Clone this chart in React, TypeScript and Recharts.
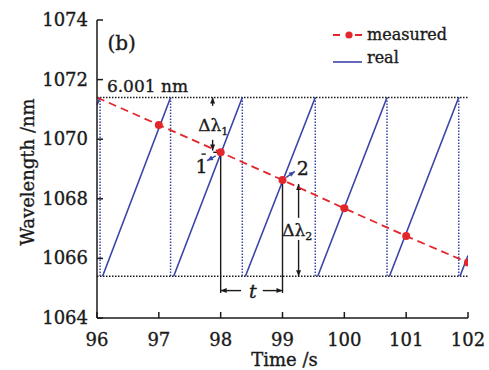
import {
  ComposedChart,
  Line,
  XAxis,
  YAxis,
  ReferenceLine,
  ReferenceDot,
  Legend,
} from "recharts"

const FONT = "'DejaVu Serif', serif"
const BLUE = "#3a45a8"
const RED = "#e3262b"
const INK = "#1a1a1a"
// a hairline outline gives the serif text a little more weight
const TEXT_WEIGHT = { stroke: INK, strokeWidth: 0.35 }

// sweep limits of the source (nm)
const LOW = 1065.4
const HIGH = 1071.4

// real wavelength: each ramp climbs to HIGH, then drops back to LOW
const rampStart = [96, 96.09, 97.24, 98.4, 99.57, 100.73, 101.87]
const rampStartValue = [1071.15, LOW, LOW, LOW, LOW, LOW, LOW]
const rampEnd = [96.05, 97.19, 98.35, 99.53, 100.69, 101.85, 102]
const rampEndValue = [HIGH, HIGH, HIGH, HIGH, HIGH, HIGH, 1066.1]
const dropTimes = [96.05, 97.19, 98.35, 99.53, 100.69, 101.85]

// measured wavelength, one sample per second
const measuredTime = [96, 97, 98, 99, 100, 101, 102]
const measuredValue = [1071.4, 1070.48, 1069.56, 1068.63, 1067.68, 1066.75, 1065.86]

const xTicks = [96, 97, 98, 99, 100, 101, 102]
const yTicks = [1064, 1066, 1068, 1070, 1072, 1074]

const realData = rampStart.flatMap((t, i) => [
  { x: t, y: rampStartValue[i] },
  { x: rampEnd[i], y: rampEndValue[i] },
  { x: rampEnd[i], y: null },
])

const dropData = dropTimes.flatMap((t) => [
  { x: t, y: HIGH },
  { x: t, y: LOW },
  { x: t, y: null },
])

const measuredData = measuredTime.map((t, i) => ({ x: t, y: measuredValue[i] }))

function XTick({ x, y, payload }: any) {
  return (
    <g>
      <line x1={x} y1={y} x2={x} y2={y - 6} stroke={INK} strokeWidth={1.5} />
      <text x={x} y={y + 28} textAnchor="middle" fontFamily={FONT} fontSize={18} fill={INK} {...TEXT_WEIGHT}>
        {payload.value}
      </text>
    </g>
  )
}

function YTick({ x, y, payload }: any) {
  return (
    <g>
      <line x1={x} y1={y} x2={x + 6} y2={y} stroke={INK} strokeWidth={1.5} />
      <text x={x - 9} y={y + 6} textAnchor="end" fontFamily={FONT} fontSize={18} fill={INK} {...TEXT_WEIGHT}>
        {payload.value}
      </text>
    </g>
  )
}

// line with filled arrow head(s) for ReferenceLine shapes
function arrow(heads: "none" | "end" | "both", color = INK) {
  return (p: any) => {
    const { x1, y1, x2, y2 } = p
    const len = Math.hypot(x2 - x1, y2 - y1) || 1
    const ux = (x2 - x1) / len
    const uy = (y2 - y1) / len
    const head = (x: number, y: number, sx: number, sy: number) => {
      const bx = x - sx * 6
      const by = y - sy * 6
      return (
        <polygon
          points={`${x},${y} ${bx - sy * 2.5},${by + sx * 2.5} ${bx + sy * 2.5},${by - sx * 2.5}`}
          fill={color}
        />
      )
    }
    return (
      <g>
        <line x1={x1} y1={y1} x2={x2} y2={y2} stroke={color} strokeWidth={1.4} />
        {heads !== "none" && head(x2, y2, ux, uy)}
        {heads === "both" && head(x1, y1, -ux, -uy)}
      </g>
    )
  }
}

function seg(key: string, a: [number, number], b: [number, number], heads: "none" | "end" | "both", color = INK) {
  return (
    <ReferenceLine
      key={key}
      segment={[
        { x: a[0], y: a[1] },
        { x: b[0], y: b[1] },
      ]}
      shape={arrow(heads, color)}
    />
  )
}

function note(key: string, x: number, y: number, body: any, size = 18, anchor = "middle", italic = false) {
  return (
    <ReferenceDot
      key={key}
      x={x}
      y={y}
      r={0}
      shape={(p: any) => (
        <text
          x={p.cx}
          y={p.cy}
          textAnchor={anchor}
          fontFamily={FONT}
          fontSize={size}
          fontStyle={italic ? "italic" : "normal"}
          fill={INK}
          {...TEXT_WEIGHT}
        >
          {body}
        </text>
      )}
    />
  )
}

function LegendBox() {
  return (
    <svg width={130} height={48}>
      <line x1={3} y1={10} x2={10} y2={10} stroke={RED} strokeWidth={2} />
      <circle cx={19} cy={10} r={3.6} fill={RED} />
      <line x1={25} y1={10} x2={32} y2={10} stroke={RED} strokeWidth={2} />
      <text x={37} y={15} fontFamily={FONT} fontSize={16} fill={INK} {...TEXT_WEIGHT}>
        measured
      </text>
      <line x1={3} y1={37} x2={32} y2={37} stroke={BLUE} strokeWidth={1.6} />
      <text x={37} y={38} fontFamily={FONT} fontSize={16} fill={INK} {...TEXT_WEIGHT}>
        real
      </text>
    </svg>
  )
}

const sub = (main: string, s: string) => (
  <>
    {main}
    <tspan fontSize={11} dy={4}>
      {s}
    </tspan>
  </>
)

export default function App() {
  return (
    <div style={{ position: "absolute", left: 0, top: 0, width: 489, height: 370, background: "#fff" }}>
      <ComposedChart width={489} height={370} margin={{ top: 20, right: 21, bottom: 0, left: 0 }}>
        <XAxis
          dataKey="x"
          type="number"
          domain={[96, 102]}
          ticks={xTicks}
          interval={0}
          allowDataOverflow
          height={52}
          tickSize={0}
          tickMargin={0}
          tick={<XTick />}
          axisLine={{ stroke: INK, strokeWidth: 1.5 }}
          label={{
            content: (p: any) => (
              <text
                x={p.viewBox.x + p.viewBox.width / 2 + 2}
                y={p.viewBox.y + 48}
                textAnchor="middle"
                fontFamily={FONT}
                fontSize={18}
                fill={INK}
                {...TEXT_WEIGHT}
              >
                Time /s
              </text>
            ),
          }}
        />
        <XAxis
          xAxisId="top"
          orientation="top"
          type="number"
          domain={[96, 102]}
          height={0}
          tick={false}
          tickLine={false}
          axisLine={{ stroke: INK, strokeWidth: 1.5 }}
        />
        <YAxis
          type="number"
          domain={[1064, 1074]}
          ticks={yTicks}
          interval={0}
          allowDataOverflow
          width={97}
          tickSize={0}
          tickMargin={0}
          tick={<YTick />}
          axisLine={{ stroke: INK, strokeWidth: 1.5 }}
          label={{
            content: () => (
              <text
                x={27}
                y={172}
                transform="rotate(-90, 27, 172)"
                textAnchor="middle"
                dominantBaseline="central"
                fontFamily={FONT}
                fontSize={18}
                fill={INK}
                {...TEXT_WEIGHT}
              >
                Wavelength /nm
              </text>
            ),
          }}
        />
        <YAxis
          yAxisId="right"
          orientation="right"
          type="number"
          domain={[1064, 1074]}
          width={0}
          tick={false}
          tickLine={false}
          axisLine={{ stroke: INK, strokeWidth: 1.5 }}
        />

        <ReferenceLine y={HIGH} stroke={INK} strokeWidth={1.5} strokeDasharray="1.5 1.5" />
        <ReferenceLine y={LOW} stroke={INK} strokeWidth={1.5} strokeDasharray="1.5 1.5" />

        <Line
          data={dropData}
          dataKey="y"
          stroke={BLUE}
          strokeWidth={1.5}
          strokeDasharray="1.5 1.5"
          dot={false}
          legendType="none"
          isAnimationActive={false}
        />
        <Line
          data={realData}
          dataKey="y"
          name="real"
          stroke={BLUE}
          strokeWidth={1.6}
          dot={false}
          isAnimationActive={false}
        />

        {/* readout markers between samples 98 and 99 */}
        {seg("v98", [98, measuredValue[2]], [98, 1064.84], "none")}
        {seg("v99", [99, measuredValue[3]], [99, 1064.84], "none")}
        {seg("tl", [98.33, 1064.92], [98, 1064.92], "end")}
        {seg("tr", [98.68, 1064.92], [99, 1064.92], "end")}
        {note("t", 98.52, 1064.66, "t", 19, "middle", true)}

        {seg("d1a", [97.87, 1071.12], [97.87, HIGH], "end")}
        {seg("d1b", [97.87, 1069.98], [97.87, 1069.62], "end")}
        {seg("d1c", [97.88, 1069.56], [97.98, 1069.56], "none")}
        {seg("d1d", [97.69, 1069.5], [97.76, 1069.5], "none")}
        {note("dl1", 97.88, 1070.28, sub("Δλ", "1"), 17)}

        {seg("d2a", [99.26, 1067.36], [99.26, 1068.5], "end")}
        {seg("d2b", [99.26, 1066.62], [99.26, LOW], "end")}
        {note("dl2", 99.24, 1066.74, sub("Δλ", "2"), 17)}

        {seg("p1", [97.92, 1069.44], [97.78, 1069.28], "end", BLUE)}
        {note("n1", 97.69, 1068.85, "1", 19)}
        {seg("p2", [99.06, 1068.72], [99.2, 1068.92], "end", BLUE)}
        {note("n2", 99.33, 1068.8, "2", 19)}

        {note("b", 96.17, 1072.99, "(b)", 20, "start")}
        {note("span", 96.16, 1071.58, "6.001 nm", 17, "start")}

        <Line
          data={measuredData}
          dataKey="y"
          name="measured"
          stroke={RED}
          strokeWidth={1.8}
          strokeDasharray="8 5"
          dot={(p: any) =>
            p.payload.x === 96 ? (
              <g key={p.index} />
            ) : (
              <circle key={p.index} cx={p.cx} cy={p.cy} r={4} fill={RED} stroke="none" />
            )
          }
          isAnimationActive={false}
        />

        <Legend
          layout="vertical"
          align="center"
          verticalAlign="middle"
          content={() => <LegendBox />}
          wrapperStyle={{ left: 330, top: 25, width: 130, height: 48 }}
        />
      </ComposedChart>
    </div>
  )
}
